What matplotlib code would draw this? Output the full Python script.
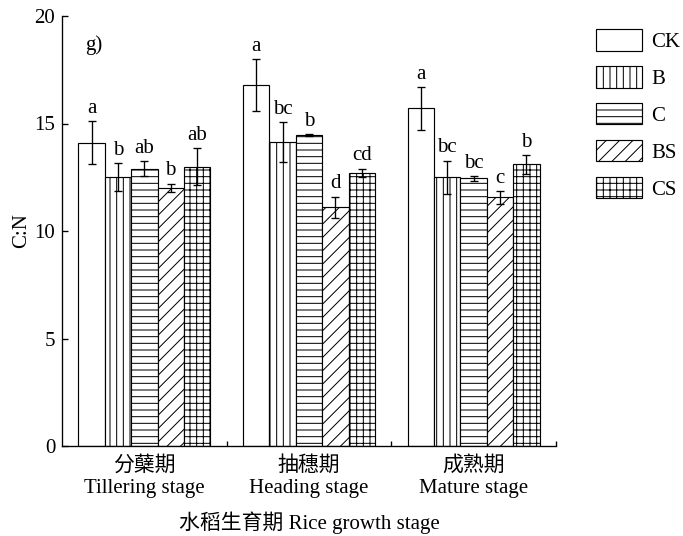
import matplotlib
matplotlib.use("Agg")
import matplotlib.pyplot as plt
import numpy as np

plt.rcParams['font.family'] = ['Liberation Serif', 'Noto Sans CJK SC']
plt.rcParams['hatch.linewidth'] = 0.6

stages = ["分蘖期\nTillering stage", "抽穗期\nHeading stage", "成熟期\nMature stage"]
treatments = ["CK", "B", "C", "BS", "CS"]
hatches = ["", "|||", "---", "///", "+++"]

values = {
    "CK": [14.1, 16.8, 15.7],
    "B":  [12.5, 14.15, 12.5],
    "C":  [12.9, 14.47, 12.45],
    "BS": [12.0, 11.1, 11.57],
    "CS": [13.0, 12.7, 13.1],
}
errors = {
    "CK": [1.0, 1.2, 1.0],
    "B":  [0.65, 0.93, 0.77],
    "C":  [0.35, 0.05, 0.12],
    "BS": [0.2, 0.5, 0.3],
    "CS": [0.85, 0.2, 0.43],
}
letters = {
    "CK": ["a", "a", "a"],
    "B":  ["b", "bc", "bc"],
    "C":  ["ab", "b", "bc"],
    "BS": ["b", "d", "c"],
    "CS": ["ab", "cd", "b"],
}

fs = 12.5
fig = plt.figure(figsize=(683/120, 536/120), dpi=120)
ax = fig.add_axes([62/683, 90/536, 494/683, 430/536])

x = np.arange(len(stages))
w = 0.16
for i, t in enumerate(treatments):
    pos = x + (i - 2) * w
    ax.bar(pos, values[t], width=w, color="white", edgecolor="black",
           linewidth=0.7, hatch=hatches[i], label=t, zorder=2)
    ax.errorbar(pos, values[t], yerr=errors[t], fmt="none", ecolor="black",
                elinewidth=0.8, capsize=2.6, capthick=0.8, zorder=3)
    for p, v, e, l in zip(pos, values[t], errors[t], letters[t]):
        ax.text(p, v + e + 0.15, l, ha="center", va="bottom", fontsize=fs)

ax.set_xlim(-0.5, 2.5)
ax.set_ylim(0, 20)
ax.set_yticks([0, 5, 10, 15, 20])
ax.set_xticks(x)
ax.set_xticklabels(stages, fontsize=fs, linespacing=1.25)
ax.set_xticks([0.5, 1.5, 2.5], minor=True)
ax.tick_params(axis="x", which="major", length=0, pad=6)
ax.tick_params(axis="x", which="minor", direction="in", length=3, width=0.8)
ax.tick_params(axis="y", direction="in", length=3.5, width=0.8, labelsize=fs, pad=4)
for s in ["top", "right"]:
    ax.spines[s].set_visible(False)
for s in ["left", "bottom"]:
    ax.spines[s].set_linewidth(0.8)

ax.set_ylabel("C:N", fontsize=fs, labelpad=2)
ax.set_xlabel("水稻生育期 Rice growth stage", fontsize=fs, labelpad=8)
ax.text(0.047, 0.955, "g)", transform=ax.transAxes, fontsize=fs, va="top")

ax.legend(loc="upper left", bbox_to_anchor=(1.081, 0.969), frameon=False,
          fontsize=fs, handlelength=2.2, handleheight=1.2, labelspacing=0.68,
          handletextpad=0.45, borderpad=0, borderaxespad=0)

fig.savefig("out.png", dpi=120)
